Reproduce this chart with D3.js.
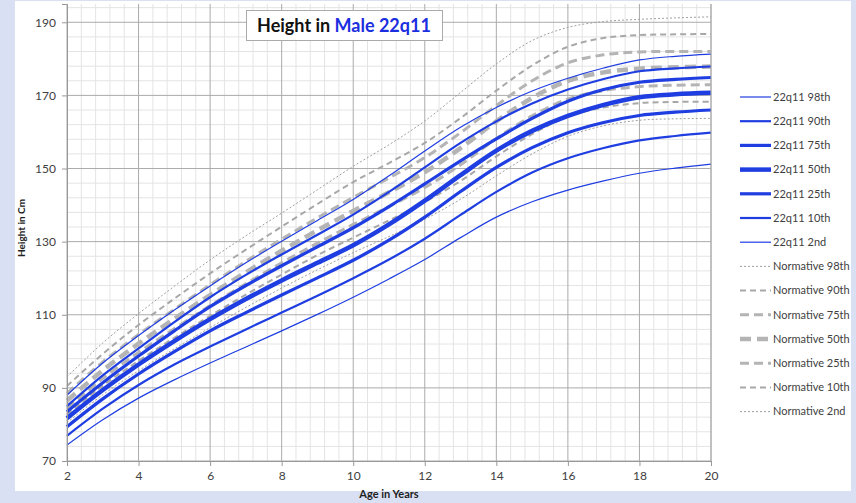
<!DOCTYPE html>
<html>
<head>
<meta charset="utf-8">
<script src="https://cdn.jsdelivr.net/npm/d3@7"></script>
<style>
	body { margin: 0; background: #d9e0f3; }
	svg { display: block; font-family: Lato, 'Open Sans', sans-serif; }
</style>
</head>
<body>
<svg id="growth-chart"></svg>
<script>
var ages = [2, 3, 4, 5, 6, 7, 8, 9, 10, 11, 12, 13, 14, 15, 16, 17, 18, 19, 20];

// 22q11 percentiles (cm)
var q98 = [88.0, 96.8, 104.3, 111.3, 117.9, 124.2, 130.1, 135.8, 141.5, 148.0, 154.8, 161.3, 166.7, 171.2, 174.7, 177.5, 179.7, 180.7, 181.3];
var q90 = [85.0, 93.4, 100.8, 108.0, 114.8, 120.9, 126.5, 131.9, 137.4, 143.6, 150.3, 157.0, 162.9, 167.8, 171.6, 174.5, 176.6, 177.4, 177.9];
var q75 = [83.5, 91.4, 98.7, 105.6, 112.2, 118.0, 123.4, 128.6, 133.8, 139.6, 145.8, 152.1, 158.1, 163.7, 168.4, 171.6, 173.6, 174.4, 174.9];
var q50 = [81.7, 89.4, 96.4, 102.8, 108.8, 114.3, 119.4, 124.2, 129.0, 134.7, 141.2, 148.2, 154.9, 160.3, 164.4, 167.4, 169.5, 170.3, 170.7];
var q25 = [79.4, 87.0, 93.8, 99.9, 105.6, 110.6, 115.4, 120.1, 124.9, 130.4, 136.7, 143.7, 150.3, 155.7, 159.8, 162.6, 164.5, 165.4, 166.0];
var q10 = [76.9, 84.3, 90.8, 96.4, 101.3, 106.0, 110.6, 115.2, 120.0, 125.1, 130.8, 137.3, 143.6, 148.9, 152.8, 155.6, 157.7, 158.9, 159.8];
var q02 = [74.4, 81.3, 87.2, 92.2, 96.8, 101.2, 105.6, 110.1, 114.8, 119.8, 125.1, 131.1, 136.7, 140.9, 144.1, 146.6, 148.7, 150.1, 151.2];

// normative percentiles
var n98 = [93.0, 102.3, 110.3, 117.8, 125.0, 131.6, 137.8, 144.2, 150.6, 156.5, 163.0, 170.8, 178.6, 185.0, 188.6, 190.2, 190.8, 191.2, 191.5];
var n90 = [90.5, 99.3, 107.2, 114.4, 121.3, 127.8, 134.1, 140.3, 146.3, 151.5, 157.0, 163.8, 171.3, 178.2, 183.3, 185.7, 186.5, 186.7, 186.8];
var n75 = [88.5, 97.1, 104.6, 111.5, 118.2, 124.6, 130.7, 136.5, 142.1, 147.4, 153.0, 159.8, 167.2, 174.0, 178.9, 181.1, 181.9, 182.0, 182.0];
var n50 = [86.5, 94.8, 102.1, 108.9, 115.4, 121.6, 127.5, 133.1, 138.4, 143.5, 149.0, 155.6, 162.9, 169.3, 174.0, 176.3, 177.3, 177.7, 177.9];
var n25 = [84.5, 92.6, 99.7, 106.2, 112.5, 118.5, 124.2, 129.6, 134.7, 139.6, 144.8, 151.0, 158.2, 164.4, 169.0, 171.3, 172.4, 172.8, 172.9];
var n10 = [82.8, 90.6, 97.4, 103.7, 109.7, 115.5, 121.0, 126.3, 131.1, 135.8, 140.8, 146.6, 153.3, 159.4, 164.2, 166.7, 167.9, 168.2, 168.3];
var n02 = [80.5, 88.1, 94.7, 100.7, 106.5, 112.0, 117.3, 122.3, 127.0, 131.4, 136.1, 141.6, 148.0, 154.0, 158.8, 161.7, 163.2, 163.6, 163.7];

var xTicks = [2, 4, 6, 8, 10, 12, 14, 16, 18, 20];
var yTicks = [70, 90, 110, 130, 150, 170, 190];

var series = [
	{name: '22q11 98th', values: q98, kind: 'q', w: 1.2},
	{name: '22q11 90th', values: q90, kind: 'q', w: 2.2},
	{name: '22q11 75th', values: q75, kind: 'q', w: 3.2},
	{name: '22q11 50th', values: q50, kind: 'q', w: 4.5},
	{name: '22q11 25th', values: q25, kind: 'q', w: 3.2},
	{name: '22q11 10th', values: q10, kind: 'q', w: 2.2},
	{name: '22q11 2nd', values: q02, kind: 'q', w: 1.2},
	{name: 'Normative 98th', values: n98, kind: 'n', w: 1, dash: '2,2', col: '#a0a0a0'},
	{name: 'Normative 90th', values: n90, kind: 'n', w: 2, dash: '6,4', col: '#a8a8a8'},
	{name: 'Normative 75th', values: n75, kind: 'n', w: 3, dash: '9,5', col: '#b4b4b4'},
	{name: 'Normative 50th', values: n50, kind: 'n', w: 4.5, dash: '11,6', col: '#b4b4b4'},
	{name: 'Normative 25th', values: n25, kind: 'n', w: 3, dash: '9,5', col: '#b4b4b4'},
	{name: 'Normative 10th', values: n10, kind: 'n', w: 2, dash: '6,4', col: '#a8a8a8'},
	{name: 'Normative 2nd', values: n02, kind: 'n', w: 1, dash: '2,2', col: '#a0a0a0'}
];

var blue = '#1f3ee2';

var width = 856,
    height = 503;

var svg = d3.select('#growth-chart')
	.attr('width', width)
	.attr('height', height);

svg.append('rect')
	.attr('x', 15)
	.attr('y', 1)
	.attr('width', 836)
	.attr('height', 490)
	.attr('fill', '#fff');

var x = d3.scaleLinear().domain([2, 20]).range([67, 711]);
var y = d3.scaleLinear().domain([70, 195]).range([461, 4]);

var g = svg.append('g');

// minor grid
g.append('g')
	.selectAll('line')
	.data(d3.range(2.4, 20, 0.4).filter(d => Math.abs(d/2 - Math.round(d/2)) > 0.01))
	.enter()
	.append('line')
	.attr('x1', d => x(d)).attr('x2', d => x(d))
	.attr('y1', y(70)).attr('y2', y(195))
	.attr('stroke', '#e4e4e4');

g.append('g')
	.selectAll('line')
	.data(d3.range(74, 196, 4).filter(d => (d - 70) % 20 !== 0))
	.enter()
	.append('line')
	.attr('x1', x(2)).attr('x2', x(20))
	.attr('y1', d => y(d)).attr('y2', d => y(d))
	.attr('stroke', '#e4e4e4');

// major grid
g.append('g')
	.selectAll('line')
	.data(xTicks)
	.enter()
	.append('line')
	.attr('x1', d => x(d)).attr('x2', d => x(d))
	.attr('y1', y(70)).attr('y2', y(195))
	.attr('stroke', '#ababab');

g.append('g')
	.selectAll('line')
	.data(yTicks)
	.enter()
	.append('line')
	.attr('x1', x(2)).attr('x2', x(20))
	.attr('y1', d => y(d)).attr('y2', d => y(d))
	.attr('stroke', '#ababab');

// axes
var xAxis = d3.axisBottom(x).tickValues(xTicks).tickSize(5).tickPadding(5);
var yAxis = d3.axisLeft(y).tickValues(yTicks).tickSize(5).tickPadding(6);

var ax = svg.append('g')
	.attr('transform', `translate(0,${y(70)})`)
	.call(xAxis);
var ay = svg.append('g')
	.attr('transform', `translate(${x(2)},0)`)
	.call(yAxis);

[ax, ay].forEach(a => {
	a.select('.domain').attr('stroke', '#999');
	a.selectAll('.tick line').attr('stroke', '#999');
	a.selectAll('.tick text')
		.attr('fill', '#404040')
		.style('font-size', '12px')
		.style('font-family', 'Lato, sans-serif');
});

svg.append('line')
	.attr('x1', x(20)).attr('x2', x(20))
	.attr('y1', y(70)).attr('y2', y(195))
	.attr('stroke', '#ababab');

// curves
var line = d3.line()
	.x((d, i) => x(ages[i]))
	.y(d => y(d))
	.curve(d3.curveCatmullRom.alpha(0.5));

var drawOrder = series.slice(7).concat(series.slice(0, 7));

g.selectAll('path.curve')
	.data(drawOrder)
	.enter()
	.append('path')
	.attr('class', 'curve')
	.attr('d', d => line(d.values))
	.attr('fill', 'none')
	.attr('stroke', d => d.kind === 'q' ? blue : d.col)
	.attr('stroke-width', d => d.w)
	.attr('stroke-dasharray', d => d.dash || null);

// legend
var legend = svg.append('g')
	.selectAll('g')
	.data(series)
	.enter()
	.append('g')
	.attr('transform', (d, i) => `translate(740,${97 + i*24.2})`);

legend.append('line')
	.attr('x1', 0).attr('x2', 31)
	.attr('stroke', d => d.kind === 'q' ? blue : d.col)
	.attr('stroke-width', d => d.w)
	.attr('stroke-dasharray', d => d.dash || null);

legend.append('text')
	.attr('x', 33)
	.attr('dy', '0.35em')
	.attr('fill', '#404040')
	.style('font-size', '11px')
	.text(d => d.name);

// axis titles
svg.append('text')
	.attr('transform', 'translate(25,228) rotate(-90)')
	.attr('text-anchor', 'middle')
	.attr('fill', '#222')
	.style('font-size', '10px')
	.style('font-weight', 'bold')
	.text('Height in Cm');

svg.append('text')
	.attr('x', 389)
	.attr('y', 498)
	.attr('text-anchor', 'middle')
	.attr('fill', '#222')
	.style('font-size', '11px')
	.style('font-weight', 'bold')
	.text('Age in Years');

// title box
svg.append('rect')
	.attr('x', 246.5)
	.attr('y', 10.5)
	.attr('width', 196)
	.attr('height', 30)
	.attr('fill', '#fff')
	.attr('stroke', '#aaa');

var title = svg.append('text')
	.attr('x', 344)
	.attr('y', 32)
	.attr('text-anchor', 'middle')
	.style('font-size', '18px')
	.style('font-weight', 'bold');

title.append('tspan').attr('fill', '#111').text('Height in ');
title.append('tspan').attr('fill', '#1a2ee0').text('Male 22q11');
</script>
</body>
</html>
